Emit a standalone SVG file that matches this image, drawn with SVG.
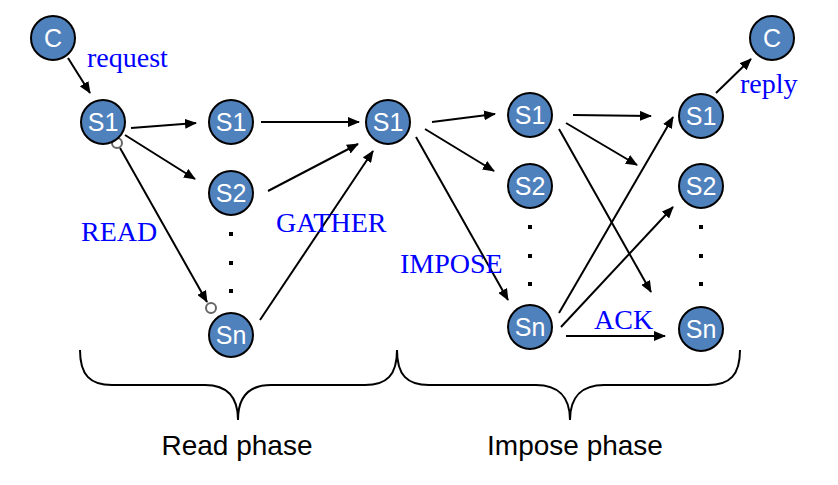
<svg xmlns="http://www.w3.org/2000/svg" width="838" height="485" viewBox="0 0 838 485">
<defs>
<marker id="ah" viewBox="0 0 12 10" refX="11" refY="5" markerWidth="12" markerHeight="10" markerUnits="userSpaceOnUse" orient="auto">
<path d="M0,0 L12,5 L0,10 Z" fill="#000"/>
</marker>
</defs>
<style>
.node circle{fill:#4f81bd;stroke:#000;stroke-width:2}
.node text{fill:#fff;font-family:"Liberation Sans",Arial,sans-serif;font-size:25px;text-anchor:middle}
.edge{stroke:#000;stroke-width:2;fill:none;marker-end:url(#ah)}
.lbl{fill:#0000ff;font-family:"Liberation Serif","Times New Roman",serif;font-size:28px}
.dot{fill:#000}
.brace{stroke:#000;stroke-width:2;fill:none}
.phase{fill:#000;font-family:"Liberation Sans",Arial,sans-serif;font-size:28px;text-anchor:middle}
.ring{fill:#fff;stroke:#666;stroke-width:2}
</style>

<g id="connectors">
<line class="edge" x1="68" y1="58" x2="90" y2="93"/>
<line class="edge" x1="131" y1="128" x2="196" y2="123"/>
<line class="edge" x1="125" y1="135" x2="195" y2="179"/>
<line class="edge" x1="120" y1="148" x2="207" y2="302"/>
<line class="edge" x1="261" y1="122" x2="359" y2="122"/>
<line class="edge" x1="268" y1="191" x2="358" y2="144"/>
<line class="edge" x1="260" y1="320" x2="373" y2="151"/>
<line class="edge" x1="432" y1="122" x2="495" y2="114"/>
<line class="edge" x1="425" y1="129" x2="494" y2="171"/>
<line class="edge" x1="416" y1="137" x2="508" y2="300"/>
<line class="edge" x1="573" y1="115" x2="651" y2="116"/>
<line class="edge" x1="566" y1="123" x2="637" y2="165"/>
<line class="edge" x1="559" y1="129" x2="651" y2="292"/>
<line class="edge" x1="559" y1="313" x2="673" y2="117"/>
<line class="edge" x1="561" y1="327" x2="673" y2="207"/>
<line class="edge" x1="566" y1="336" x2="665" y2="336"/>
<line class="edge" x1="716" y1="93" x2="751" y2="59"/>
<circle class="ring" cx="117" cy="143" r="5"/>
<circle class="ring" cx="211" cy="308" r="5"/>
</g>

<g id="braces">
<path class="brace" d="M80,350 C80,375 90,385 112,385 L205,385 C226,385 238,396 238,420 C238,396 250,385 271,385 L365,385 C387,385 397,375 397,350"/>
<path class="brace" d="M397,350 C397,375 407,385 429,385 L536,385 C557,385 570,396 570,420 C570,396 583,385 604,385 L708,385 C730,385 740,375 740,350"/>
<text class="phase" x="237" y="455">Read phase</text>
<text class="phase" x="575" y="455">Impose phase</text>
</g>

<g id="dots">
<rect class="dot" x="229" y="232" width="4" height="4"/>
<rect class="dot" x="229" y="261" width="4" height="4"/>
<rect class="dot" x="229" y="289" width="4" height="4"/>
<rect class="dot" x="528" y="225" width="4" height="4"/>
<rect class="dot" x="528" y="254" width="4" height="4"/>
<rect class="dot" x="528" y="282" width="4" height="4"/>
<rect class="dot" x="699" y="225" width="4" height="4"/>
<rect class="dot" x="699" y="254" width="4" height="4"/>
<rect class="dot" x="699" y="282" width="4" height="4"/>
</g>

<g id="labels">
<text class="lbl" x="87" y="67">request</text>
<text class="lbl" x="81" y="241">READ</text>
<text class="lbl" x="276" y="232">GATHER</text>
<text class="lbl" x="400" y="273">IMPOSE</text>
<text class="lbl" x="594" y="329">ACK</text>
<text class="lbl" x="740" y="93">reply</text>
</g>

<g id="c-client" class="node"><circle cx="53" cy="38" r="22"/><text x="53" y="47">C</text></g>
<g id="s1-leader" class="node"><circle cx="103" cy="122" r="22"/><text x="103" y="131">S1</text></g>
<g id="read-s1" class="node"><circle cx="231" cy="122" r="22"/><text x="231" y="131">S1</text></g>
<g id="read-s2" class="node"><circle cx="231" cy="193" r="22"/><text x="231" y="202">S2</text></g>
<g id="read-sn" class="node"><circle cx="231" cy="335" r="22"/><text x="231" y="344">Sn</text></g>
<g id="gather-s1" class="node"><circle cx="388" cy="122" r="22"/><text x="388" y="131">S1</text></g>
<g id="impose-s1" class="node"><circle cx="530" cy="115" r="22"/><text x="530" y="124">S1</text></g>
<g id="impose-s2" class="node"><circle cx="530" cy="186" r="22"/><text x="530" y="195">S2</text></g>
<g id="impose-sn" class="node"><circle cx="530" cy="327" r="22"/><text x="530" y="336">Sn</text></g>
<g id="ack-s1" class="node"><circle cx="701" cy="116" r="22"/><text x="701" y="125">S1</text></g>
<g id="ack-s2" class="node"><circle cx="701" cy="186" r="22"/><text x="701" y="195">S2</text></g>
<g id="ack-sn" class="node"><circle cx="701" cy="329" r="22"/><text x="701" y="338">Sn</text></g>
<g id="c-reply" class="node"><circle cx="772" cy="38" r="22"/><text x="772" y="47">C</text></g>
</svg>
